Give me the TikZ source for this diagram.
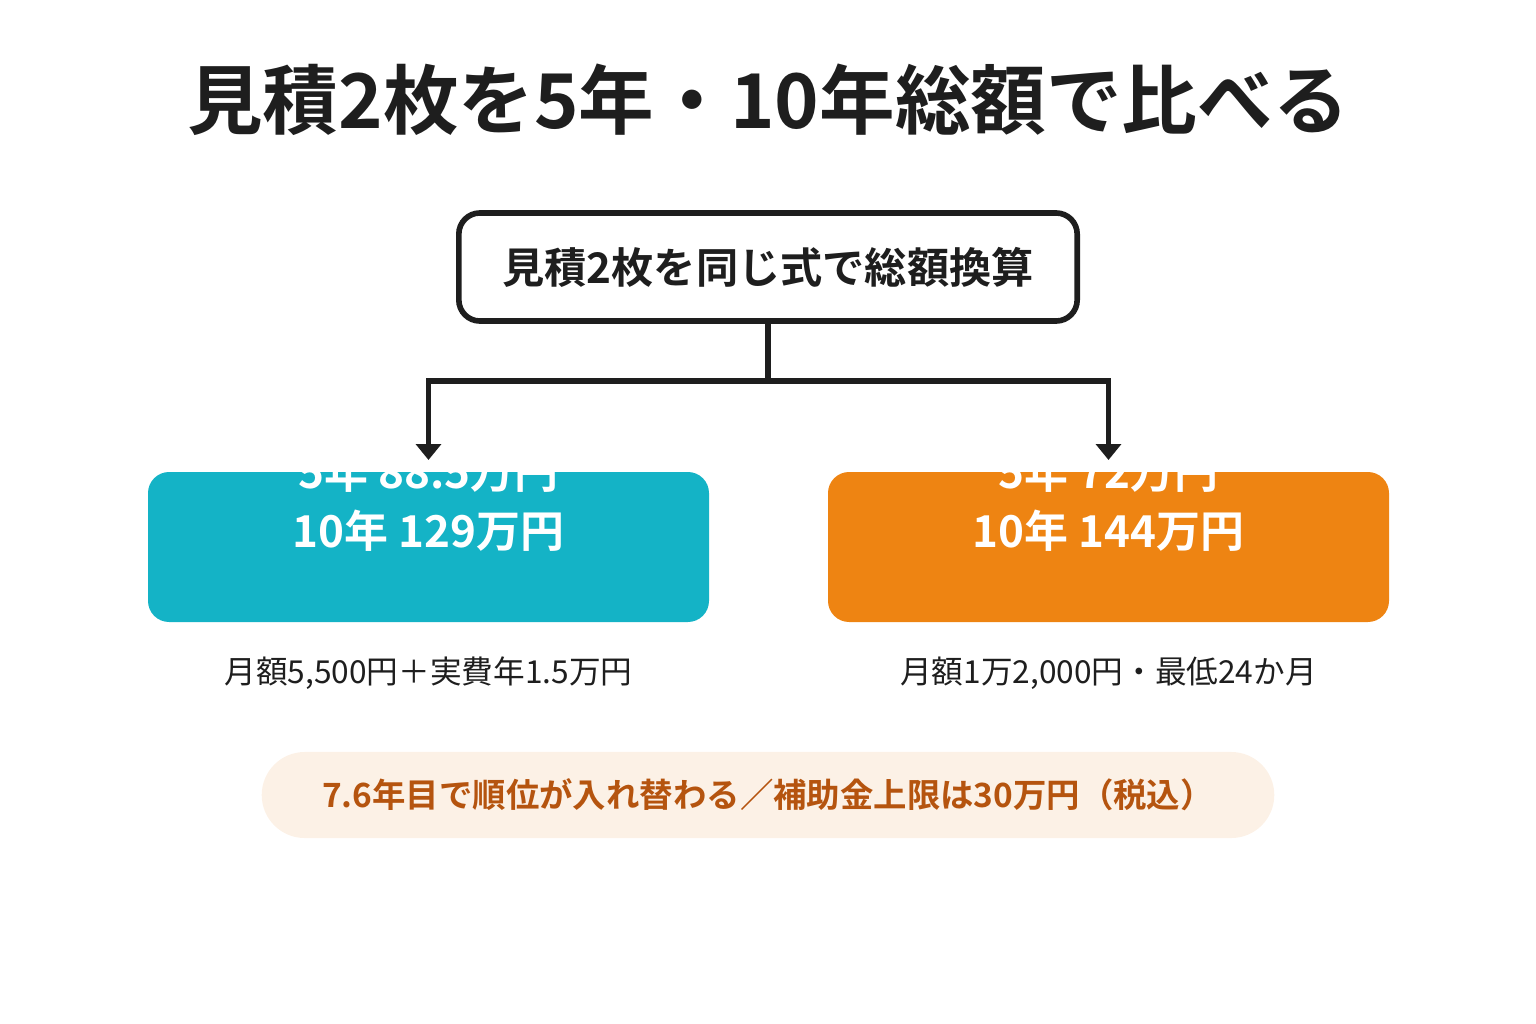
\documentclass[tikz,border=0pt]{standalone}
\usepackage{fontspec}
\setmainfont{Noto Sans CJK JP}
\newfontfamily\jpbold{Noto Sans CJK JP Bold}
\usetikzlibrary{positioning,arrows.meta}
\definecolor{teal}{HTML}{14B3C6}
\definecolor{orng}{HTML}{EE8412}
\definecolor{cream}{HTML}{FCF1E6}
\definecolor{brwn}{HTML}{B5540F}
\definecolor{ink}{HTML}{1E1E1E}
\tikzset{
  est/.style={rounded corners=6pt, minimum width=5.61cm, minimum height=1.5cm, text height=0pt, text depth=0pt, inner sep=0pt,
    text=white, align=center, font=\jpbold\fontsize{12.5pt}{16.5pt}\selectfont},
  note/.style={font=\fontsize{9pt}{11pt}\selectfont, text=ink},
  link/.style={line width=1.6pt, draw=ink},
}
\begin{document}
\begin{tikzpicture}[x=0.01cm,y=-0.01cm]
  \useasboundingbox (0,0) rectangle (1536,1024);
  % title
  \node[font=\jpbold\fontsize{21.5pt}{24pt}\selectfont, text=ink] (title) at (768,100) {見積2枚を5年・10年総額で比べる};
  % top box
  \node[draw=ink, line width=1.6pt, rounded corners=6pt, minimum width=6.18cm, minimum height=1.08cm,
    font=\jpbold\fontsize{12pt}{14pt}\selectfont, text=ink] (calc) at (768,267) {見積2枚を同じ式で総額換算};
  % estimates
  \fill[teal, rounded corners=6pt] (148,472) rectangle (709,622);
  \fill[orng, rounded corners=6pt] (828,472) rectangle (1389,622);
  \node[est] (estA) at (428.5,547) {見積A 一式48万円\\5年 88.5万円\\10年 129万円};
  \node[est] (estB) at (1108.5,547) {見積B 初期0円\\5年 72万円\\10年 144万円};
  \node[note] (noteA) at (428.5,673) {月額5,500円＋実費年1.5万円};
  \node[note] (noteB) at (1108.5,673) {月額1万2,000円・最低24か月};
  % connectors
  \coordinate (split) at (768,381);
  \coordinate (topA) at (428.5,460);
  \coordinate (topB) at (1108.5,460);
  \draw[link] (calc.south) -- (split);
  \draw[link, -{Triangle[length=4.5pt,width=7pt]}] (split) -| (topA);
  \draw[link, -{Triangle[length=4.5pt,width=7pt]}] (split) -| (topB);
  % summary
  \node[fill=cream, rounded corners=0.43cm, minimum width=10.12cm, minimum height=0.86cm,
    text=brwn, font=\jpbold\fontsize{9.5pt}{12pt}\selectfont] (sum) at (768,795)
    {7.6年目で順位が入れ替わる／補助金上限は30万円（税込）};
\end{tikzpicture}
\end{document}
